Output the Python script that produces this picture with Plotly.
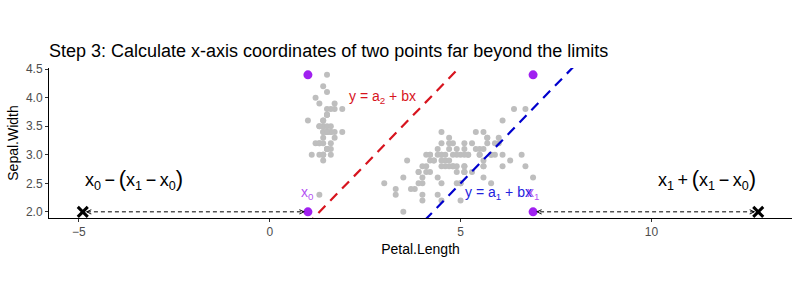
import plotly.graph_objects as go

# iris: Petal.Length and Sepal.Width (150 rows)
petal_length = [1.4,1.4,1.3,1.5,1.4,1.7,1.4,1.5,1.4,1.5, 1.5,1.6,1.4,1.1,1.2,1.5,1.3,1.4,1.7,1.5,
                1.7,1.5,1.0,1.7,1.9,1.6,1.6,1.5,1.4,1.6, 1.6,1.5,1.5,1.4,1.5,1.2,1.3,1.4,1.3,1.5,
                1.3,1.3,1.3,1.6,1.9,1.4,1.6,1.4,1.5,1.4,
                4.7,4.5,4.9,4.0,4.6,4.5,4.7,3.3,4.6,3.9, 3.5,4.2,4.0,4.7,3.6,4.4,4.5,4.1,4.5,3.9,
                4.8,4.0,4.9,4.7,4.3,4.4,4.8,5.0,4.5,3.5, 3.8,3.7,3.9,5.1,4.5,4.5,4.7,4.4,4.1,4.0,
                4.4,4.6,4.0,3.3,4.2,4.2,4.2,4.3,3.0,4.1,
                6.0,5.1,5.9,5.6,5.8,6.6,4.5,6.3,5.8,6.1, 5.1,5.3,5.5,5.0,5.1,5.3,5.5,6.7,6.9,5.0,
                5.7,4.9,6.7,4.9,5.7,6.0,4.8,4.9,5.6,5.8, 6.1,6.4,5.6,5.1,5.6,6.1,5.6,5.5,4.8,5.4,
                5.6,5.1,5.1,5.9,5.7,5.2,5.0,5.2,5.4,5.1]
sepal_width = [3.5,3.0,3.2,3.1,3.6,3.9,3.4,3.4,2.9,3.1, 3.7,3.4,3.0,3.0,4.0,4.4,3.9,3.5,3.8,3.8,
               3.4,3.7,3.6,3.3,3.4,3.0,3.4,3.5,3.4,3.2, 3.1,3.4,4.1,4.2,3.1,3.2,3.5,3.6,3.0,3.4,
               3.5,2.3,3.2,3.5,3.8,3.0,3.8,3.2,3.7,3.3,
               3.2,3.2,3.1,2.3,2.8,2.8,3.3,2.4,2.9,2.7, 2.0,3.0,2.2,2.9,2.9,3.1,3.0,2.7,2.2,2.5,
               3.2,2.8,2.5,2.8,2.9,3.0,2.8,3.0,2.9,2.6, 2.4,2.4,2.7,2.7,3.0,3.4,3.1,2.3,3.0,2.5,
               2.6,3.0,2.6,2.3,2.7,3.0,2.9,2.9,2.5,2.8,
               3.3,2.7,3.0,2.9,3.0,3.0,2.5,2.9,2.5,3.6, 3.2,2.7,3.0,2.5,2.8,3.2,3.0,3.8,2.6,2.2,
               3.2,2.8,2.8,2.7,3.3,3.2,2.8,3.0,2.8,3.0, 2.8,3.8,2.8,2.8,2.6,3.0,3.4,3.1,3.0,3.1,
               3.1,3.1,2.7,3.2,3.3,3.0,2.5,3.0,3.4,3.0]

# line parameters
b = 0.69
a1 = -0.95
a2 = 1.10

x0 = min(petal_length)
x1 = max(petal_length)
y_min = min(sepal_width)
y_max = max(sepal_width)
x_far_left = x0 - (x1 - x0)
x_far_right = x1 + (x1 - x0)

x_range = [x_far_left - 0.05 * (x_far_right - x_far_left), x_far_right + 0.05 * (x_far_right - x_far_left)]
y_range = [y_min - 0.045 * (y_max - y_min), y_max + 0.05 * (y_max - y_min)]

PURPLE = "#A020F0"
RED = "#D7141E"
BLUE = "#0000CD"
FONT = "Liberation Sans, Arial, sans-serif"

fig = go.Figure()

fig.add_trace(go.Scatter(x=petal_length, y=sepal_width, mode="markers",
                         marker=dict(size=6, color="#BEBEBE"), hoverinfo="skip"))

line_x = [x_range[0] - 1, x_range[1] + 1]
fig.add_trace(go.Scatter(x=line_x, y=[a2 + b * v for v in line_x], mode="lines",
                         line=dict(color=RED, width=2.2, dash="10px,7px")))
fig.add_trace(go.Scatter(x=line_x, y=[a1 + b * v for v in line_x], mode="lines",
                         line=dict(color=BLUE, width=2.2, dash="10px,7px")))

# dashed connectors
fig.add_trace(go.Scatter(x=[x0, x_far_left], y=[y_min, y_min], mode="lines",
                         line=dict(color="black", width=1, dash="4px,3px")))
fig.add_trace(go.Scatter(x=[x1, x_far_right], y=[y_min, y_min], mode="lines",
                         line=dict(color="black", width=1, dash="4px,3px")))

# purple corner points
fig.add_trace(go.Scatter(x=[x0, x0, x1, x1], y=[y_min, y_max, y_min, y_max], mode="markers",
                         marker=dict(size=9, color=PURPLE)))

# far points
fig.add_trace(go.Scatter(x=[x_far_left, x_far_right], y=[y_min, y_min], mode="markers",
                         marker=dict(size=10, color="black", symbol="x-thin",
                                     line=dict(width=3, color="black"))))

# arrow heads
for xh, off in [(x_far_left, 7), (x0, -7), (x1, 7), (x_far_right, -7)]:
    fig.add_annotation(x=xh, y=y_min, ax=off, ay=0, text="", showarrow=True,
                       arrowhead=5, arrowsize=0.9, arrowwidth=1, arrowcolor="black", standoff=3)

# labels
fig.add_annotation(x=2.95, y=4.02, text="y = a<sub>2</sub> + bx", showarrow=False,
                   font=dict(family=FONT, size=14, color=RED))
fig.add_annotation(x=6.0, y=2.33, text="y = a<sub>1</sub> + bx", showarrow=False,
                   font=dict(family=FONT, size=14, color="#2222DD"))
fig.add_annotation(x=x0, y=2.33, text="x<sub>0</sub>", showarrow=False,
                   font=dict(family=FONT, size=14, color="rgba(160,32,240,0.8)"))
fig.add_annotation(x=x1, y=2.33, text="x<sub>1</sub>", showarrow=False,
                   font=dict(family=FONT, size=14, color="rgba(160,32,240,0.8)"))

P_OPEN = '<span style="font-size:22px">(</span>'
P_CLOSE = '<span style="font-size:22px">)</span>'
S = "\u2009"
fig.add_annotation(x=x_far_left, y=2.56, xanchor="left",
                   text=f"x<sub>0</sub>{S}−{S}{P_OPEN}x<sub>1</sub>{S}−{S}x<sub>0</sub>{P_CLOSE}",
                   showarrow=False, font=dict(family=FONT, size=18, color="black"))
fig.add_annotation(x=x_far_right, y=2.56, xanchor="right",
                   text=f"x<sub>1</sub>{S}+{S}{P_OPEN}x<sub>1</sub>{S}−{S}x<sub>0</sub>{P_CLOSE}",
                   showarrow=False, font=dict(family=FONT, size=18, color="black"))

fig.update_layout(
    width=800, height=300,
    margin=dict(l=49, r=8, t=68, b=82),
    plot_bgcolor="white", paper_bgcolor="white",
    showlegend=False,
    font=dict(family=FONT),
    title=dict(text="Step 3: Calculate x-axis coordinates of two points far beyond the limits",
               x=49 / 800, xref="container", xanchor="left",
               y=1 - 51 / 300, yref="container", yanchor="middle",
               font=dict(family=FONT, size=18, color="black")),
    xaxis=dict(range=x_range, tickvals=[-5, 0, 5, 10], ticks="outside", ticklen=3,
               tickcolor="#333333", showline=True, linecolor="black", linewidth=1,
               showgrid=False, zeroline=False,
               tickfont=dict(size=12, color="#4D4D4D"),
               title=dict(text="Petal.Length", font=dict(size=14, color="black"), standoff=5)),
    yaxis=dict(range=y_range, tickvals=[2.0, 2.5, 3.0, 3.5, 4.0, 4.5],
               ticktext=["2.0", "2.5", "3.0", "3.5", "4.0", "4.5"], ticks="outside", ticklen=3,
               tickcolor="#333333", showline=True, linecolor="black", linewidth=1,
               showgrid=False, zeroline=False,
               tickfont=dict(size=12, color="#4D4D4D"),
               title=dict(text="Sepal.Width", font=dict(size=14, color="black"), standoff=4)),
)

fig.write_html("out.html")
